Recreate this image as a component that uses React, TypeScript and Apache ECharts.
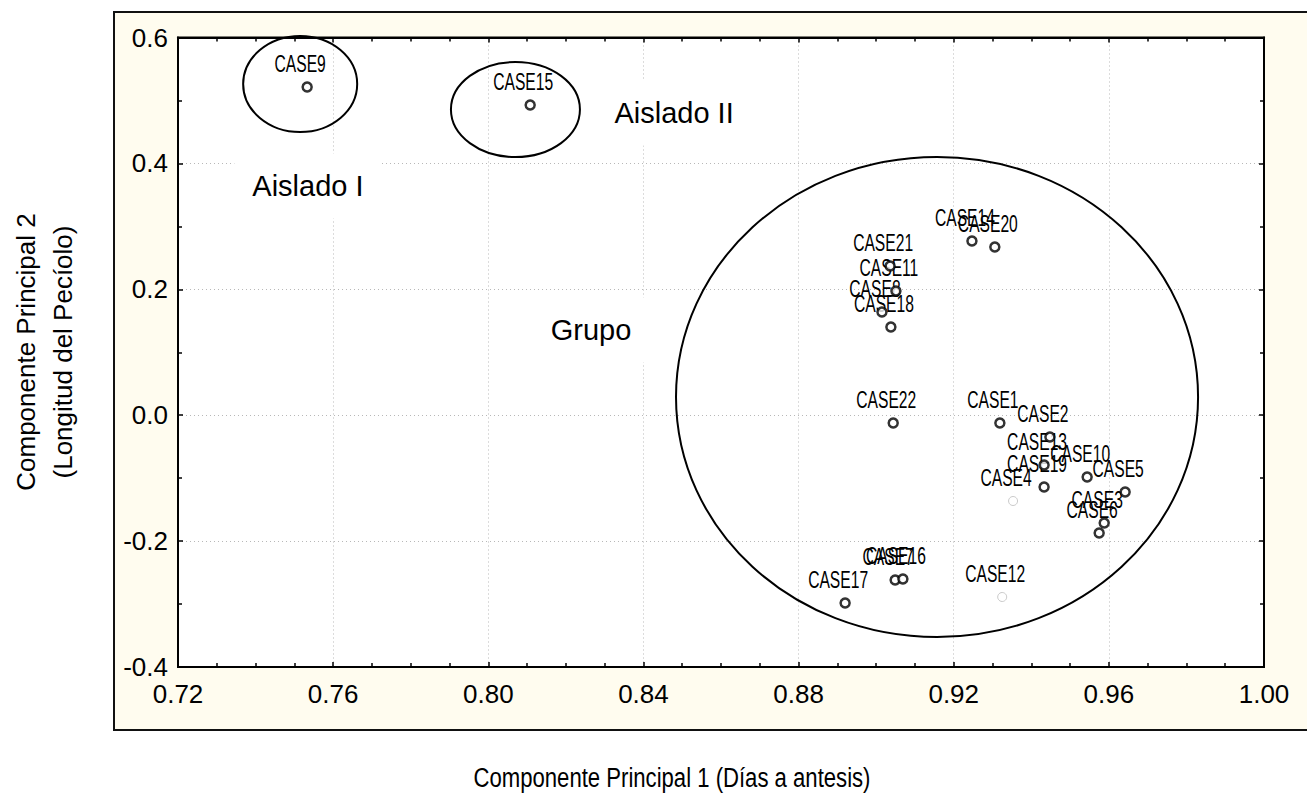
import React, { useEffect, useRef } from "react";
import * as echarts from "echarts";

const caseNames = [
  "CASE1", "CASE2", "CASE3", "CASE4", "CASE5", "CASE6", "CASE7", "CASE8", "CASE9", "CASE10", "CASE11",
  "CASE12", "CASE13", "CASE14", "CASE15", "CASE16", "CASE17", "CASE18", "CASE19", "CASE20", "CASE21", "CASE22",
];
const pc1 = [
  0.9319, 0.9448, 0.9588, 0.9353, 0.9642, 0.9575, 0.9049, 0.9015, 0.7533, 0.9544, 0.9051,
  0.9325, 0.9433, 0.9247, 0.8108, 0.9069, 0.892, 0.9038, 0.9433, 0.9306, 0.9036, 0.9044,
];
const pc2 = [
  -0.0124, -0.0346, -0.1712, -0.1363, -0.122, -0.1871, -0.2618, 0.1639, 0.5214, -0.0982, 0.1973,
  -0.2888, -0.0791, 0.2767, 0.4928, -0.2602, -0.2983, 0.1401, -0.1141, 0.2672, 0.237, -0.0124,
];
const faintCases = ["CASE4", "CASE12"];

// ellipses: center x, center y, radius x, radius y (data units)
const ellipseCx = [0.7515, 0.807, 0.9157];
const ellipseCy = [0.5261, 0.4856, 0.0289];
const ellipseRx = [0.0147, 0.01663, 0.0673];
const ellipseRy = [0.0763, 0.0755, 0.3813];

const groupNames = ["Aislado I", "Aislado II", "Grupo"];
const groupX = [0.7535, 0.8479, 0.8265];
const groupY = [0.3641, 0.4801, 0.1353];

const xTicks = { min: 0.72, max: 1.0, interval: 0.04 };
const yTicks = { min: -0.4, max: 0.6, interval: 0.2 };

const xTitle = "Componente Principal 1 (Días a antesis)";
const yTitle = "Componente Principal 2\n(Longitud del Pecíolo)";

const FONT = '"Liberation Sans", Arial, sans-serif';

export default function App() {
  const ref = useRef<HTMLDivElement>(null);
  useEffect(() => {
    if (!ref.current) return;
    const chart = echarts.init(ref.current, null, { renderer: "svg" });
    const pts = pc1.map((x, i) => ({
      value: [x, pc2[i]],
      itemStyle: faintCases.includes(caseNames[i])
        ? { color: "#fff", borderColor: "#bdbdbd", borderWidth: 1 }
        : { color: "#fff", borderColor: "#000", borderWidth: 2.5 },
    }));
    const gridLeft = 178, gridTop = 37.5, gridW = 1086, gridH = 629.5;
    const axisCommon = {
      type: "value" as const,
      axisLine: { show: true, onZero: false, lineStyle: { color: "#000", width: 2 } },
      axisTick: { show: true, inside: true, length: 5, lineStyle: { color: "#000", width: 1.5 } },
      minorTick: { show: true, length: 4, lineStyle: { color: "#000", width: 1.5 } },
    };
    chart.setOption({
      animation: false,
      backgroundColor: "#ffffff",
      graphic: [
        {
          type: "rect",
          z: -10,
          silent: true,
          shape: { x: 114, y: 12, width: 1220, height: 718 },
          style: { fill: "#fffcef", stroke: "#111", lineWidth: 2 },
        },
        {
          type: "text",
          x: 672,
          y: 777,
          scaleX: 0.79,
          style: {
            text: xTitle,
            font: `28px ${FONT}`,
            fill: "#000",
            textAlign: "center",
            textVerticalAlign: "middle",
            align: "center",
            verticalAlign: "middle",
          },
        },
        {
          type: "text",
          x: 44,
          y: 352,
          rotation: Math.PI / 2,
          style: {
            text: yTitle,
            font: `26px ${FONT}`,
            lineHeight: 37,
            fill: "#000",
            textAlign: "center",
            textVerticalAlign: "middle",
            align: "center",
            verticalAlign: "middle",
          },
        },
      ],
      grid: {
        left: gridLeft,
        top: gridTop,
        width: gridW,
        height: gridH,
        show: true,
        backgroundColor: "#fff",
        borderColor: "#000",
        borderWidth: 2,
        containLabel: false,
      },
      xAxis: [
        {
          ...axisCommon,
          position: "bottom",
          min: xTicks.min,
          max: xTicks.max,
          interval: xTicks.interval,
          minorTick: { ...axisCommon.minorTick, splitNumber: 4 },
          axisLabel: {
            color: "#000",
            fontSize: 26,
            fontFamily: FONT,
            margin: 14,
            formatter: (v: number) => v.toFixed(2),
          },
          splitLine: { show: true, lineStyle: { color: "#b8b8b8", type: [1, 3], width: 1 } },
        },
        {
          ...axisCommon,
          position: "top",
          min: xTicks.min,
          max: xTicks.max,
          interval: xTicks.interval,
          minorTick: { ...axisCommon.minorTick, splitNumber: 4 },
          axisLabel: { show: false },
          splitLine: { show: false },
        },
      ],
      yAxis: [
        {
          ...axisCommon,
          position: "left",
          min: yTicks.min,
          max: yTicks.max,
          interval: yTicks.interval,
          minorTick: { ...axisCommon.minorTick, splitNumber: 2 },
          axisLabel: {
            color: "#000",
            fontSize: 26,
            fontFamily: FONT,
            margin: 10,
            formatter: (v: number) => v.toFixed(1),
          },
          splitLine: { show: true, lineStyle: { color: "#b8b8b8", type: [1, 3], width: 1 } },
        },
        {
          ...axisCommon,
          position: "right",
          min: yTicks.min,
          max: yTicks.max,
          interval: yTicks.interval,
          minorTick: { ...axisCommon.minorTick, splitNumber: 2 },
          axisLabel: { show: false },
          splitLine: { show: false },
        },
      ],
      series: [
        {
          type: "custom",
          z: 2,
          silent: true,
          clip: false,
          data: ellipseCx.map((cx, i) => [cx, ellipseCy[i], ellipseRx[i], ellipseRy[i]]),
          encode: { x: 0, y: 1 },
          renderItem: (params: any, api: any) => {
            const c = api.coord([api.value(0), api.value(1)]);
            const s = api.size([api.value(2), api.value(3)]);
            return {
              type: "ellipse",
              shape: { cx: c[0], cy: c[1], rx: s[0], ry: s[1] },
              style: { fill: "none", stroke: "#000", lineWidth: 2 },
            };
          },
        },
        {
          type: "custom",
          z: 3,
          silent: true,
          clip: false,
          data: groupX.map((x, i) => [x, groupY[i]]),
          encode: { x: 0, y: 1 },
          renderItem: (params: any, api: any) => {
            const c = api.coord([api.value(0), api.value(1)]);
            return {
              type: "text",
              x: c[0],
              y: c[1],
              style: {
                text: groupNames[params.dataIndex],
                font: `29px ${FONT}`,
                fill: "#000",
                align: "center",
                verticalAlign: "middle",
                backgroundColor: "#fff",
                padding: [18, 18],
              },
            };
          },
        },
        {
          type: "custom",
          z: 4,
          silent: true,
          clip: false,
          data: pc1.map((x, i) => [x, pc2[i]]),
          encode: { x: 0, y: 1 },
          renderItem: (params: any, api: any) => {
            const c = api.coord([api.value(0), api.value(1)]);
            return {
              type: "text",
              x: c[0] - 7,
              y: c[1] - 23,
              scaleX: 0.68,
              style: {
                text: caseNames[params.dataIndex],
                font: `23px ${FONT}`,
                fill: "#000",
                align: "center",
                verticalAlign: "middle",
              },
            };
          },
        },
        {
          type: "scatter",
          z: 5,
          symbol: "circle",
          symbolSize: 9,
          data: pts,
        },
      ],
    });
    return () => chart.dispose();
  }, []);
  return (
    <div
      ref={ref}
      style={{ position: "fixed", left: 0, top: 0, width: 1307, height: 795 }}
    />
  );
}
